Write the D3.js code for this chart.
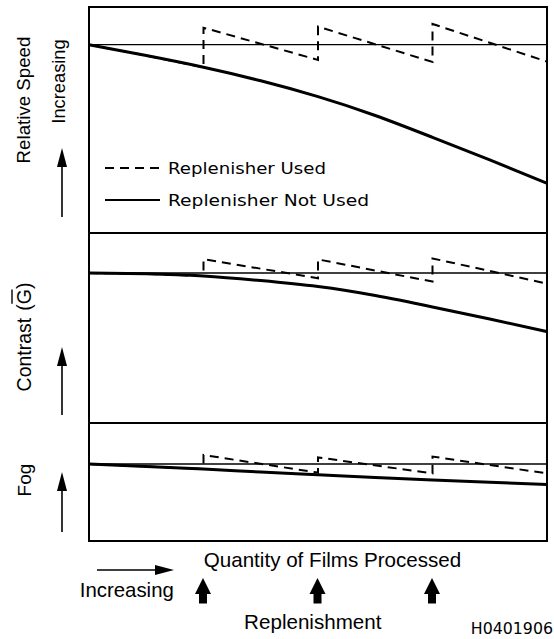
<!DOCTYPE html>
<html>
<head>
<meta charset="utf-8">
<script src="https://cdn.jsdelivr.net/npm/d3@7"></script>
<style>
  html, body { margin: 0; padding: 0; background: #fff; }
  svg { display: block; }
</style>
</head>
<body>
<script>
// ---------------- DATA ----------------
// Quantity of films processed (arbitrary units; replenishment at 1, 2, 3)
const quantity = [0, 0.5, 1, 1.5, 2, 2.5, 3, 3.5, 4];
const replenishAt = [1, 2, 3];

// "Replenisher Not Used" (relative change from starting level)
const speedNotUsed    = [0, -5.8, -12.0, -19.2, -27.6, -37.6, -49.2, -61.2, -73.6];
const contrastNotUsed = [0, -0.4, -1.5, -3.8, -6.8, -11.3, -17.0, -23.0, -29.3];
const fogNotUsed      = [0, -1.2, -2.5, -4.0, -5.4, -6.8, -8.0, -9.1, -10.2];

// "Replenisher Used" (saw-tooth: jumps back up at each replenishment)
const usedQuantity = [0, 0.5, 1, 1, 2, 2, 3, 3, 4];
const speedUsed    = [0, -5.8, -12.0, 9.0, -8.1, 9.6, -9.2, 11.0, -9.0];
const contrastUsed = [0, -0.4, -1.5, 6.9, -2.6, 6.8, -4.3, 7.3, -5.3];
const fogUsed      = [0, -1.2, -2.5, 4.5, -4.3, 3.3, -4.7, 3.7, -4.7];

const legendLabels = ["Replenisher Used", "Replenisher Not Used"];
const axisLabels = ["Relative Speed", "Contrast", "Fog"];

// ---------------- LAYOUT ----------------
const W = 554, H = 639;
const left = 89, right = 547;
const svg = d3.select("body").append("svg").attr("width", W).attr("height", H);

const x = d3.scaleLinear().domain([0, 4]).range([left, right]);

const panels = [
  { top: 7,   bottom: 233, domain: [20, -100],  notUsed: speedNotUsed,    used: speedUsed },
  { top: 233, bottom: 423, domain: [20, -75],   notUsed: contrastNotUsed, used: contrastUsed },
  { top: 423, bottom: 541, domain: [20.5, -38.5], notUsed: fogNotUsed,    used: fogUsed }
];

panels.forEach(p => {
  const y = d3.scaleLinear().domain(p.domain).range([p.top, p.bottom]);
  const g = svg.append("g");
  // reference (starting level) line
  g.append("line")
    .attr("x1", x(0)).attr("x2", x(4))
    .attr("y1", y(0)).attr("y2", y(0))
    .attr("stroke", "#000").attr("stroke-width", 1.4);
  // replenisher used (dashed)
  const usedPts = usedQuantity.map((q, i) => [q, p.used[i]]);
  g.append("path")
    .datum(usedPts)
    .attr("d", d3.line().x(d => x(d[0])).y(d => y(d[1])))
    .attr("fill", "none").attr("stroke", "#000")
    .attr("stroke-width", 2).attr("stroke-dasharray", "9,6");
  // replenisher not used (solid)
  const notPts = quantity.map((q, i) => [q, p.notUsed[i]]);
  g.append("path")
    .datum(notPts)
    .attr("d", d3.line().curve(d3.curveNatural).x(d => x(d[0])).y(d => y(d[1])))
    .attr("fill", "none").attr("stroke", "#000").attr("stroke-width", 3);
  // panel frame
  g.append("rect")
    .attr("x", left).attr("y", p.top)
    .attr("width", right - left).attr("height", p.bottom - p.top)
    .attr("fill", "none").attr("stroke", "#000").attr("stroke-width", 2);
});

// ---------------- LEGEND ----------------
const legend = svg.append("g");
const legendRows = [
  { y: 168, dash: "9,6", sw: 2, len: 158 },
  { y: 200, dash: null, sw: 2.2, len: 201 }
];
legendRows.forEach((r, i) => {
  legend.append("line")
    .attr("x1", 105).attr("x2", 160).attr("y1", r.y).attr("y2", r.y)
    .attr("stroke", "#000").attr("stroke-width", r.sw)
    .attr("stroke-dasharray", r.dash);
  legend.append("text")
    .attr("x", 168).attr("y", r.y + 6)
    .attr("font-family", "DejaVu Sans").attr("font-size", 16)
    .attr("textLength", r.len).attr("lengthAdjust", "spacingAndGlyphs")
    .text(legendLabels[i]);
});

// ---------------- LEFT LABELS ----------------
const labFont = "Liberation Sans, Arial, Helvetica, sans-serif";
function vtext(tx, ty, str, fs) {
  return svg.append("text")
    .attr("transform", `translate(${tx},${ty}) rotate(-90)`)
    .attr("text-anchor", "middle")
    .attr("font-family", labFont).attr("font-size", fs)
    .text(str);
}
vtext(30, 100, axisLabels[0], 18.7);
vtext(65, 81.5, "Increasing", 18.3);
vtext(31, 480, axisLabels[2], 19);

// Contrast (G) with overline on G
const cg = svg.append("g").attr("transform", "translate(31,337) rotate(-90)");
const ct = cg.append("text")
  .attr("text-anchor", "middle")
  .attr("font-family", labFont).attr("font-size", 19.5);
ct.append("tspan").text(axisLabels[1]);
ct.append("tspan").attr("dx", 7).text("(G)");
{
  const node = ct.node();
  const ext = node.getExtentOfChar(9); // the "G"
  cg.append("line")
    .attr("x1", ext.x + 0.5).attr("x2", ext.x + ext.width - 0.5)
    .attr("y1", -19).attr("y2", -19)
    .attr("stroke", "#000").attr("stroke-width", 1.4);
}

// thin arrows
function thinArrow(x1, y1, x2, y2) {
  const ang = Math.atan2(y2 - y1, x2 - x1);
  const hl = 19, hw = 5;
  const bx = x2 - hl * Math.cos(ang), by = y2 - hl * Math.sin(ang);
  svg.append("line")
    .attr("x1", x1).attr("y1", y1).attr("x2", bx).attr("y2", by)
    .attr("stroke", "#000").attr("stroke-width", 1.6);
  const px = -Math.sin(ang) * hw, py = Math.cos(ang) * hw;
  svg.append("path")
    .attr("d", `M${x2},${y2}L${bx + px},${by + py}L${bx - px},${by - py}Z`)
    .attr("fill", "#000");
}
thinArrow(62, 217, 62, 148);
thinArrow(62, 415, 62, 347);
thinArrow(62, 532, 62, 472);
thinArrow(97, 570, 174, 570);

// ---------------- BOTTOM ----------------
svg.append("text")
  .attr("x", 332.5).attr("y", 566.5).attr("text-anchor", "middle")
  .attr("font-family", labFont).attr("font-size", 20.6)
  .text("Quantity of Films Processed");
svg.append("text")
  .attr("x", 126.8).attr("y", 596.5).attr("text-anchor", "middle")
  .attr("font-family", labFont).attr("font-size", 20.4)
  .text("Increasing");
svg.append("text")
  .attr("x", 312.8).attr("y", 629).attr("text-anchor", "middle")
  .attr("font-family", labFont).attr("font-size", 20.6)
  .text("Replenishment");
svg.append("text")
  .attr("x", 553).attr("y", 633.5).attr("text-anchor", "end")
  .attr("font-family", "DejaVu Sans").attr("font-size", 15.8)
  .text("H0401906");

// fat replenishment arrows
svg.selectAll(".fat").data(replenishAt).enter().append("path")
  .attr("class", "fat")
  .attr("d", d => {
    const cx = x(d) - 0.5;
    return `M${cx},578 L${cx + 8},594 L${cx + 4},594 L${cx + 4},603.5 L${cx - 4},603.5 L${cx - 4},594 L${cx - 8},594 Z`;
  })
  .attr("fill", "#000");
</script>
</body>
</html>
